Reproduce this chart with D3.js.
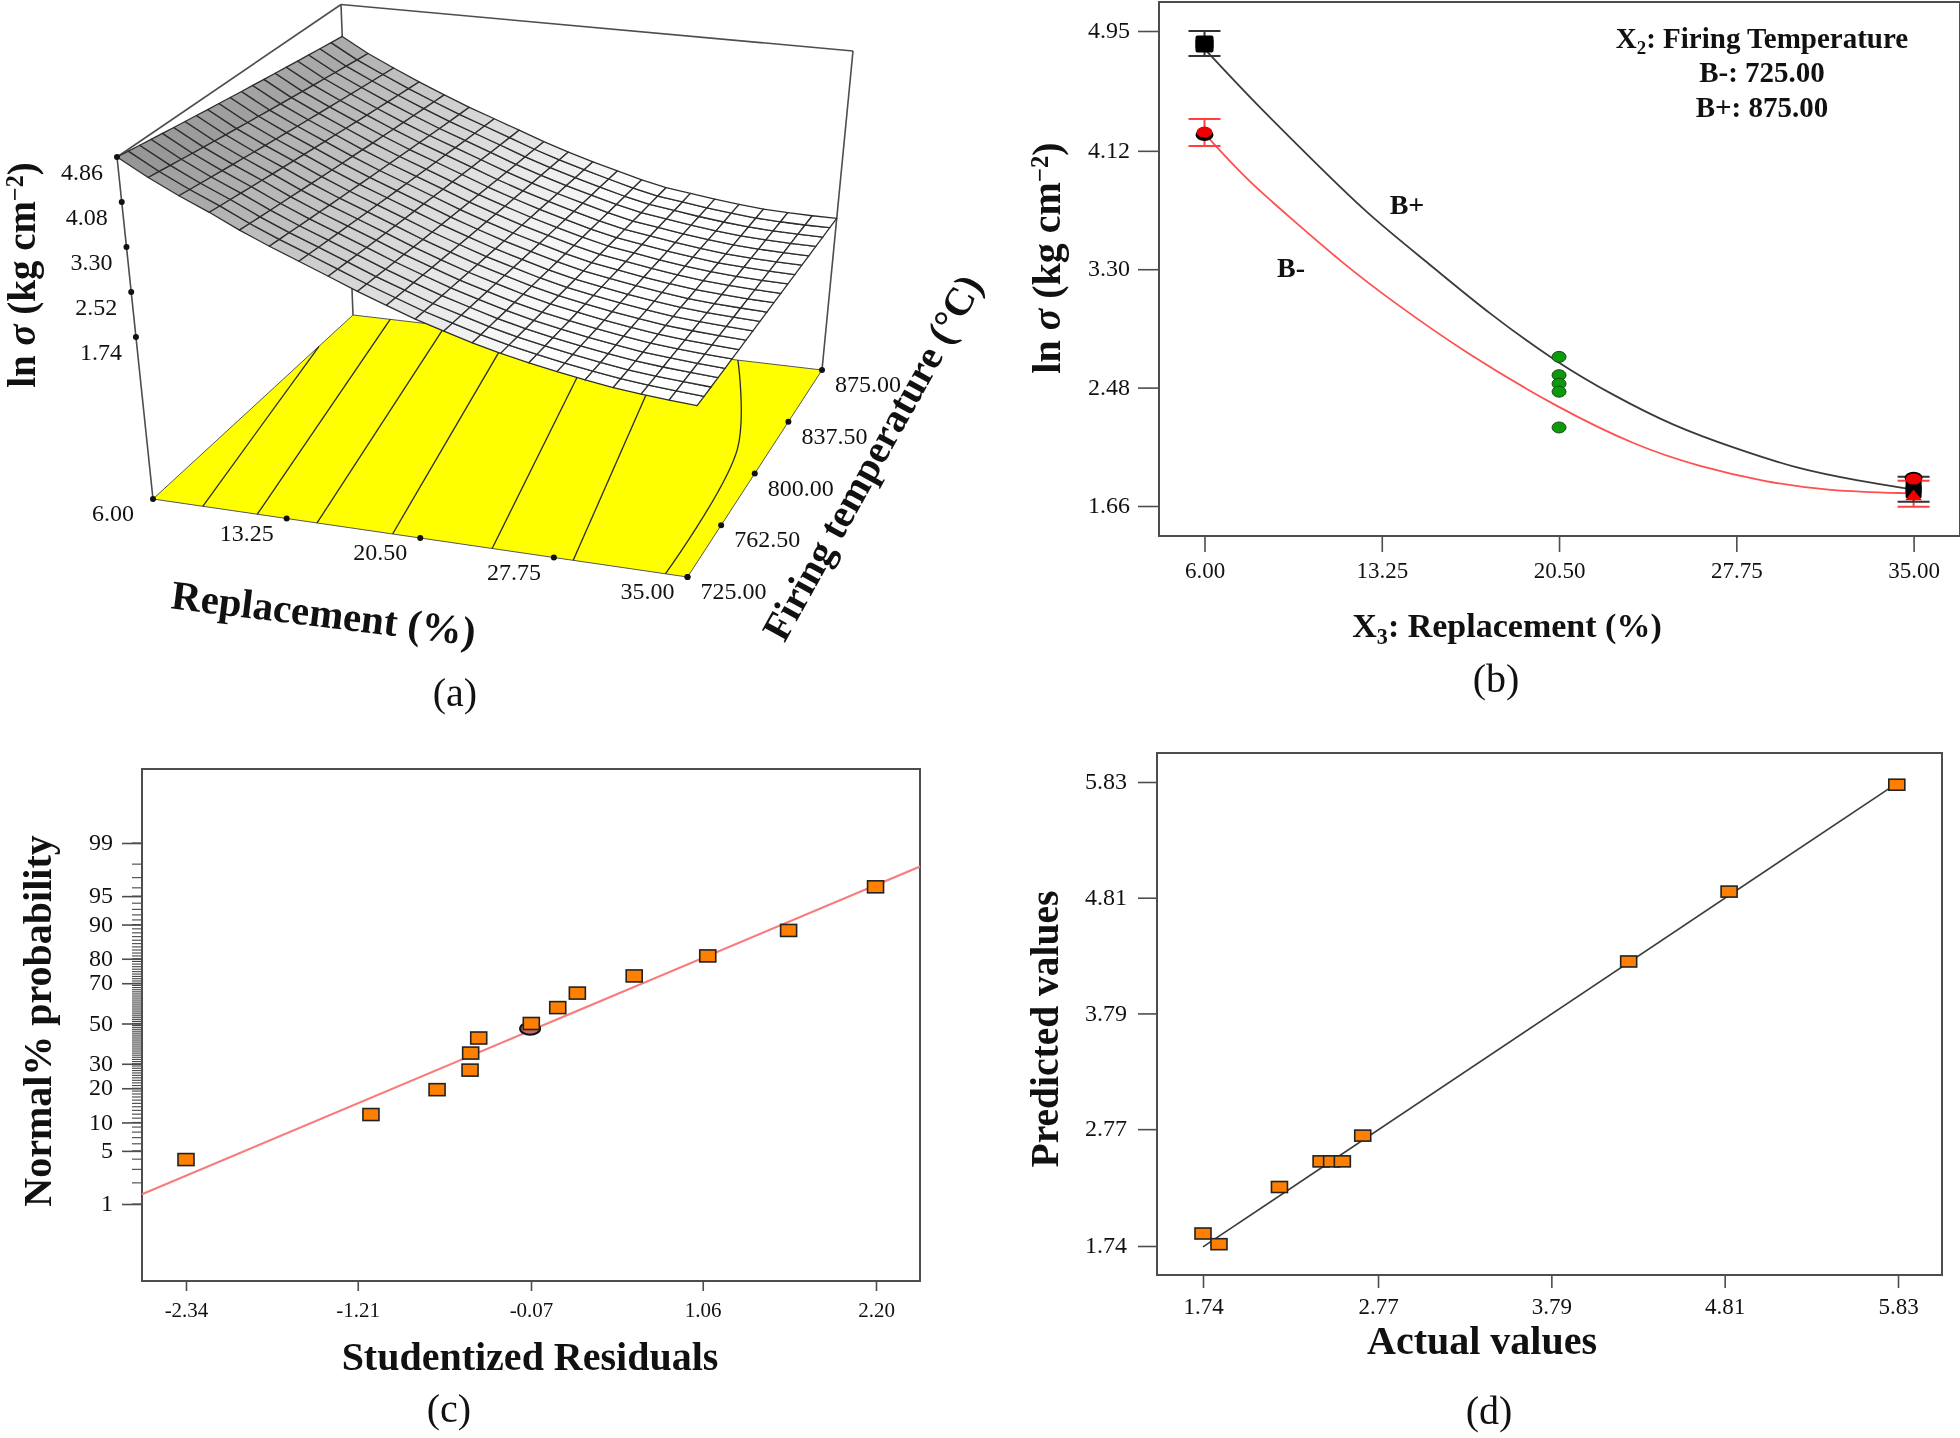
<!DOCTYPE html>
<html>
<head>
<meta charset="utf-8">
<script src="https://cdn.jsdelivr.net/npm/d3@7"></script>
<style>
    html, body { margin: 0; padding: 0; background: #fff; }
    svg { display: block; filter: blur(0.5px); }
    text { font-family: "Liberation Serif", serif; fill: #111; }
</style>
</head>
<body>
<div id="plotRegi"></div>
<script>
var surf_replacement = [6, 7.45, 8.9, 10.35, 11.8, 13.25, 14.7, 16.15, 17.6, 19.05, 20.5, 21.95, 23.4, 24.85, 26.3, 27.75, 29.2, 30.65, 32.1, 33.55, 35]
var surf_front = [4.86, 4.56, 4.30, 4.07, 3.82, 3.60, 3.40, 3.20, 3.00, 2.82, 2.645, 2.50, 2.36, 2.24, 2.14, 2.05, 1.97, 1.90, 1.85, 1.81, 1.775]
var surf_back = [4.25, 3.97, 3.74, 3.52, 3.32, 3.13, 2.96, 2.79, 2.62, 2.47, 2.335, 2.21, 2.09, 1.99, 1.93, 1.87, 1.82, 1.78, 1.76, 1.75, 1.75]
var temp_rows = [725, 732.5, 740, 747.5, 755, 762.5, 770, 777.5, 785, 792.5, 800, 807.5, 815, 822.5, 830, 837.5, 845, 852.5, 860, 867.5, 875]
var contour_lines = [
    [[8.7, 725], [6, 849.5]],
    [[11.66, 725], [8.3, 875]],
    [[14.9, 725], [11.7, 875]],
    [[19, 725], [15.7, 875]],
    [[24.4, 725], [20.9, 875]],
    [[28.8, 725], [25.3, 875]],
    [[33.8, 725], [33.2, 815], [29.8, 875]]
]
var a_x_ticks = [6, 13.25, 20.5, 27.75, 35]
var a_t_ticks = [725, 762.5, 800, 837.5, 875]
var a_z_ticks = [1.74, 2.52, 3.30, 4.08, 4.86]

// (b) interaction plot
var b_x_ticks = [6, 13.25, 20.5, 27.75, 35]
var b_y_ticks = [1.66, 2.48, 3.30, 4.12, 4.95]
var bplus_x = [6, 7.9, 10.16, 12.66, 15.17, 17.67, 20.48, 22.68, 25.18, 27.69, 30.19, 32.7, 35]
var bplus_y = [4.826, 4.48, 4.10, 3.68, 3.34, 2.987, 2.646, 2.43, 2.213, 2.06, 1.92, 1.836, 1.774]
var bminus_x = [6, 7.65, 9.65, 11.66, 13.66, 16.67, 20.48, 23.68, 26.19, 28.94, 31.44, 35]
var bminus_y = [4.24, 3.93, 3.636, 3.34, 3.08, 2.72, 2.337, 2.074, 1.935, 1.827, 1.765, 1.747]
var green_y = [2.693, 2.566, 2.507, 2.452, 2.204]
var bplus_err = [[6, 4.777, 4.95], [35, 1.69, 1.863]]
var bminus_err = [[6, 4.153, 4.34], [35, 1.655, 1.835]]
var black_points = [[6, 4.87], [6, 4.85], [35, 1.79], [35, 1.76]]
var black_under_red = [[6, 4.23], [35, 1.855]]
var red_circles = [[6, 4.25], [35, 1.847]]
var red_triangles = [[35, 1.725]]

// (c) normal probability plot
var c_x_ticks = [-2.34, -1.21, -0.07, 1.06, 2.20]
var c_y_ticks = [1, 5, 10, 20, 30, 50, 70, 80, 90, 95, 99]
var c_residuals = [-2.34, -1.123, -0.688, -0.471, -0.467, -0.414, -0.068, 0.106, 0.235, 0.609, 1.093, 1.625, 2.197]
var c_probability = [3.96, 11.9, 19.5, 27.2, 35, 42.5, 50, 58.2, 65.4, 73.2, 81, 88.6, 96.1]
var c_line_x = [-2.63, 2.49]
var c_line_p = [1.46, 97.83]
var c_circle = [-0.076, 47.3]

// (d) predicted vs actual
var d_ticks = [1.74, 2.77, 3.79, 4.81, 5.83]
var d_actual = [1.74, 1.834, 2.19, 2.435, 2.497, 2.56, 2.68, 4.245, 4.836, 5.823]
var d_predicted = [1.85, 1.756, 2.26, 2.486, 2.486, 2.486, 2.713, 4.248, 4.864, 5.806]
var d_line = [[1.74, 1.732], [5.823, 5.818]]

var svg = d3
    .select("#plotRegi")
    .append("svg")
    .attr("width", 1960)
    .attr("height", 1438)

var line_gray = "#4d4d4d"

function label(x, y, str, size, bold, rotate) {
    var t = svg
        .append("text")
        .attr("text-anchor", "middle")
        .attr("transform", "translate(" + x + "," + y + ")" + (rotate ? " rotate(" + rotate + ")" : ""))
        .style("font-size", size + "px")
        .style("font-weight", bold ? "bold" : "normal")
    if (str) t.text(str)
    return t
}

// y title used by (a) and (b)
function lnTitle(x, y, size) {
    var t = label(x, y, null, size, true, -90)
    t.append("tspan").text("ln ")
    t.append("tspan").style("font-style", "italic").text("σ")
    t.append("tspan").text(" (kg cm")
    t.append("tspan").attr("dy", -size * 0.3).style("font-size", size * 0.62 + "px").text("−2")
    t.append("tspan").attr("dy", size * 0.3).text(")")
}

function subTitle(x, y, size, before, sub, after) {
    var t = label(x, y, null, size, true)
    t.append("tspan").text(before)
    t.append("tspan").attr("dy", size * 0.22).style("font-size", size * 0.65 + "px").text(sub)
    t.append("tspan").attr("dy", -size * 0.22).text(after)
}

// Box with the ticks of a 2D panel
function panel(box, scale_x, scale_y, x_ticks, y_ticks, x_fmt, y_fmt, x_tick, x_pad, y_tick, y_pad, x_font) {
    svg
        .append("rect")
        .attr("x", box.left)
        .attr("y", box.top)
        .attr("width", box.right - box.left)
        .attr("height", box.bottom - box.top)
        .attr("fill", "none")
        .attr("stroke", line_gray)
        .attr("stroke-width", 2)

    var ax = svg
        .append("g")
        .attr("transform", "translate(0," + box.bottom + ")")
        .call(d3.axisBottom(scale_x).tickValues(x_ticks).tickFormat(x_fmt).tickSize(x_tick).tickPadding(x_pad))
    var ay = svg
        .append("g")
        .attr("transform", "translate(" + box.left + ",0)")
        .call(d3.axisLeft(scale_y).tickValues(y_ticks).tickFormat(y_fmt).tickSize(y_tick).tickPadding(y_pad))

    ;[ax, ay].forEach(function (g) {
        g.select(".domain").remove()
        g.selectAll("line").attr("stroke", line_gray).attr("stroke-width", 1.6)
        g.selectAll("text").style("font-size", "24px").attr("font-family", null)
    })
    ax.selectAll("text").style("font-size", x_font + "px")
    ay.selectAll("text").attr("dy", "0.28em")
}

function squares(pts, w, h) {
    svg
        .append("g")
        .selectAll("rect")
        .data(pts)
        .enter()
        .append("rect")
        .attr("x", d => d.x - w / 2)
        .attr("y", d => d.y - h / 2)
        .attr("width", w)
        .attr("height", h)
        .attr("fill", "#ff8000")
        .attr("stroke", "#222")
        .attr("stroke-width", 1.6)
}

/* ---------- (a) ---------- */
var u_scale = d3.scaleLinear().domain([6, 35]).range([0, 1])
var v_scale = d3.scaleLinear().domain([725, 875]).range([0, 1])
var w_scale = d3.scaleLinear().domain([-1.07, 4.86]).range([0, 1])

// Perspective of the plot cube: corner pixels, [floor, top] for each vertical edge
var cube = {
    left_front: [[153, 499], [117, 157]],
    right_front: [[687.5, 577], [707.5, 220]],
    right_back: [[822, 370], [853, 51]],
    left_back: [[353, 315], [341, 4.5]]
}

function project(rep, temp, z) {
    var u = u_scale(rep), v = v_scale(temp), w = w_scale(z)
    function edge(c) {
        return [c[0][0] + (c[1][0] - c[0][0]) * w, c[0][1] + (c[1][1] - c[0][1]) * w]
    }
    var lf = edge(cube.left_front), rf = edge(cube.right_front), rb = edge(cube.right_back), lb = edge(cube.left_back)
    var fx = lf[0] + (rf[0] - lf[0]) * u, fy = lf[1] + (rf[1] - lf[1]) * u
    var bx = lb[0] + (rb[0] - lb[0]) * u, by = lb[1] + (rb[1] - lb[1]) * u
    return [fx + (bx - fx) * v, fy + (by - fy) * v]
}

var z_floor = -1.07, z_top = 4.86
var line3d = d3.line()

var a_group = svg.append("g")

// Back of the cube
var cube_edges = [
    [[6, 725, z_floor], [6, 725, z_top]],
    [[6, 725, z_top], [6, 875, z_top]],
    [[6, 875, z_top], [35, 875, z_top]],
    [[6, 875, z_floor], [6, 875, z_top]],
    [[35, 875, z_floor], [35, 875, z_top]]
]
a_group
    .selectAll("path.edge")
    .data(cube_edges)
    .enter()
    .append("path")
    .attr("class", "edge")
    .attr("d", d => line3d(d.map(p => project(p[0], p[1], p[2]))))
    .attr("stroke", line_gray)
    .attr("stroke-width", 1.6)
    .attr("fill", "none")

// Yellow floor with the contours
a_group
    .append("path")
    .attr("d", line3d([[6, 725], [35, 725], [35, 875], [6, 875]].map(p => project(p[0], p[1], z_floor))) + "Z")
    .attr("fill", "#ffff00")
    .attr("stroke", "#555")
    .attr("stroke-width", 1)

a_group
    .selectAll("path.contour")
    .data(contour_lines)
    .enter()
    .append("path")
    .attr("class", "contour")
    .attr("d", d => d3.line().curve(d3.curveCatmullRom)(d.map(p => project(p[0], p[1], z_floor))))
    .attr("stroke", "#2a2a2a")
    .attr("stroke-width", 1.3)
    .attr("fill", "none")

// Surface mesh
var shade = d3.scaleLinear().domain([4.86, 2.05]).range(["#8f8f8f", "#ffffff"]).clamp(true)

function surfaceZ(i, j) {
    var t = v_scale(temp_rows[j])
    return surf_front[i] + (surf_back[i] - surf_front[i]) * t
}

var cells = []
temp_rows.slice(0, -1).forEach(function (temp, j) {
    surf_replacement.slice(0, -1).forEach(function (rep, i) {
        cells.push({ i: i, j: j })
    })
})

a_group
    .selectAll("path.cell")
    .data(cells)
    .enter()
    .append("path")
    .attr("class", "cell")
    .attr("d", function (d) {
        var i = d.i, j = d.j
        return line3d([
            project(surf_replacement[i], temp_rows[j], surfaceZ(i, j)),
            project(surf_replacement[i + 1], temp_rows[j], surfaceZ(i + 1, j)),
            project(surf_replacement[i + 1], temp_rows[j + 1], surfaceZ(i + 1, j + 1)),
            project(surf_replacement[i], temp_rows[j + 1], surfaceZ(i, j + 1))
        ]) + "Z"
    })
    .attr("fill", d => shade((surfaceZ(d.i, d.j) + surfaceZ(d.i + 1, d.j + 1)) / 2))
    .attr("stroke", "#2e2e2e")
    .attr("stroke-width", 1.3)
    .attr("stroke-linejoin", "round")

// Tick dots and labels
var a_ticks = []
a_x_ticks.forEach(d => a_ticks.push({ p: project(d, 725, z_floor), text: d.toFixed(2), dx: -40, dy: 22 }))
a_t_ticks.forEach(d => a_ticks.push({ p: project(35, d, z_floor), text: d.toFixed(2), dx: 46, dy: 22 }))
a_z_ticks.forEach(d => a_ticks.push({ p: project(6, 725, d), text: d.toFixed(2), dx: -35, dy: 23 }))

a_group
    .selectAll("circle.tick")
    .data(a_ticks)
    .enter()
    .append("circle")
    .attr("class", "tick")
    .attr("cx", d => d.p[0])
    .attr("cy", d => d.p[1])
    .attr("r", 3)
    .attr("fill", "#111")

a_group
    .selectAll("text.tick")
    .data(a_ticks)
    .enter()
    .append("text")
    .attr("class", "tick")
    .attr("x", d => d.p[0] + d.dx)
    .attr("y", d => d.p[1] + d.dy)
    .attr("text-anchor", "middle")
    .style("font-size", "24px")
    .text(d => d.text)

lnTitle(35, 275, 39)
label(322, 627, "Replacement (%)", 41, true, 7)
label(884, 464, "Firing temperature (°C)", 40, true, -61)
label(455, 706, "(a)", 40)

/* ---------- (b) ---------- */
var b_box = { left: 1159, right: 1960, top: 2, bottom: 536 }
var b_x = d3.scaleLinear().domain([6, 35]).range([1204.5, 1913.6])
var b_y = d3.scaleLinear().domain([1.66, 4.95]).range([506, 31])
panel(b_box, b_x, b_y, b_x_ticks, b_y_ticks, d => d.toFixed(2), d => d.toFixed(2), 16, 10, 21, 8, 23)

var curve = d3.line().x(d => b_x(d[0])).y(d => b_y(d[1])).curve(d3.curveBasis)

svg.append("path").attr("d", curve(d3.zip(bminus_x, bminus_y))).attr("fill", "none").attr("stroke", "#ff5050").attr("stroke-width", 1.8)
svg.append("path").attr("d", curve(d3.zip(bplus_x, bplus_y))).attr("fill", "none").attr("stroke", "#3a3a3a").attr("stroke-width", 1.8)

function errorBars(rows, color) {
    var g = svg.append("g").attr("stroke", color).attr("stroke-width", 2)
    rows.forEach(function (r) {
        g.append("line").attr("x1", b_x(r[0])).attr("x2", b_x(r[0])).attr("y1", b_y(r[1])).attr("y2", b_y(r[2]))
        r.slice(1).forEach(function (v) {
            g.append("line").attr("x1", b_x(r[0]) - 16).attr("x2", b_x(r[0]) + 16).attr("y1", b_y(v)).attr("y2", b_y(v))
        })
    })
}
errorBars(bminus_err, "#ff4040")
errorBars(bplus_err, "#333333")

svg
    .append("g")
    .selectAll("rect")
    .data(black_points)
    .enter()
    .append("rect")
    .attr("x", d => b_x(d[0]) - (d[0] == 6 ? 9 : 8))
    .attr("y", d => b_y(d[1]) - 7)
    .attr("width", d => d[0] == 6 ? 18 : 16)
    .attr("height", 14)
    .attr("rx", 2)
    .attr("fill", "#000")

svg
    .append("g")
    .selectAll("ellipse")
    .data(black_under_red)
    .enter()
    .append("ellipse")
    .attr("cx", d => b_x(d[0]))
    .attr("cy", d => b_y(d[1]))
    .attr("rx", 9)
    .attr("ry", 6)
    .attr("fill", "#000")

svg
    .append("g")
    .selectAll("ellipse")
    .data(red_circles)
    .enter()
    .append("ellipse")
    .attr("cx", d => b_x(d[0]))
    .attr("cy", d => b_y(d[1]))
    .attr("rx", 8)
    .attr("ry", 5.5)
    .attr("fill", "#f00000")

svg
    .append("g")
    .selectAll("path")
    .data(red_triangles)
    .enter()
    .append("path")
    .attr("transform", d => "translate(" + b_x(d[0]) + "," + b_y(d[1]) + ") scale(1.1,0.8)")
    .attr("d", d3.symbol(d3.symbolTriangle, 100))
    .attr("fill", "#f00000")

svg
    .append("g")
    .selectAll("ellipse")
    .data(green_y)
    .enter()
    .append("ellipse")
    .attr("cx", b_x(20.5))
    .attr("cy", d => b_y(d))
    .attr("rx", 7)
    .attr("ry", 5.5)
    .attr("fill", "#0a9a0a")
    .attr("stroke", "#1a4a1a")
    .attr("stroke-width", 1)

subTitle(1762, 48, 29, "X", "2", ": Firing Temperature")
label(1762, 82, "B-: 725.00", 29, true)
label(1762, 117, "B+: 875.00", 29, true)
label(1407, 214, "B+", 28, true)
label(1291, 277, "B-", 28, true)
lnTitle(1060, 258, 40)
subTitle(1507, 637, 34, "X", "3", ": Replacement (%)")
label(1496, 692, "(b)", 40)

/* ---------- (c) ---------- */
// Probit approximation for the normal probability axis
function probit(p) {
    var q = p / 100
    return (Math.pow(q, 0.135) - Math.pow(1 - q, 0.135)) / 0.1975
}

var c_box = { left: 142, right: 920, top: 769, bottom: 1281 }
var c_x = d3.scaleLinear().domain([-2.34, 2.20]).range([186, 876])
var c_z = d3.scaleLinear().domain([probit(1), probit(99)]).range([1204, 843])
var c_minor = d3.range(1, 100)
var c_y = d3.scaleLinear().domain(c_minor).range(c_minor.map(p => c_z(probit(p))))

// Small ticks for every percent
svg
    .append("g")
    .selectAll("line")
    .data(c_minor)
    .enter()
    .append("line")
    .attr("x1", c_box.left - 10)
    .attr("x2", c_box.left)
    .attr("y1", d => c_y(d))
    .attr("y2", d => c_y(d))
    .attr("stroke", "#444")
    .attr("stroke-width", 1.1)

panel(c_box, c_x, c_y, c_x_ticks, c_y_ticks, d => d.toFixed(2), d => d, 10, 11, 20, 9, 21)

svg
    .append("path")
    .attr("d", d3.line()(d3.zip(c_line_x, c_line_p).map(d => [c_x(d[0]), c_y(d[1])])))
    .attr("stroke", "#f87c7c")
    .attr("stroke-width", 2.2)
    .attr("fill", "none")

svg
    .append("ellipse")
    .attr("cx", c_x(c_circle[0]))
    .attr("cy", c_y(c_circle[1]))
    .attr("rx", 10)
    .attr("ry", 6)
    .attr("fill", "#c46a6a")
    .attr("stroke", "#111")
    .attr("stroke-width", 2)

squares(d3.zip(c_residuals, c_probability).map(d => ({ x: c_x(d[0]), y: c_y(d[1]) })), 16, 12)

label(51, 1021, "Normal% probability", 40, true, -90)
label(530, 1370, "Studentized Residuals", 40, true)
label(449, 1422, "(c)", 40)

/* ---------- (d) ---------- */
var d_box = { left: 1157, right: 1942, top: 753, bottom: 1275 }
var d_x = d3.scaleLinear().domain([1.74, 5.83]).range([1203, 1898])
var d_y = d3.scaleLinear().domain([1.74, 5.83]).range([1246, 782])
panel(d_box, d_x, d_y, d_ticks, d_ticks, d => d.toFixed(2), d => d.toFixed(2), 13, 10, 19, 11, 23)

svg
    .append("path")
    .attr("d", d3.line()(d_line.map(d => [d_x(d[0]), d_y(d[1])])))
    .attr("stroke", "#3a3a3a")
    .attr("stroke-width", 1.6)
    .attr("fill", "none")

squares(d3.zip(d_actual, d_predicted).map(d => ({ x: d_x(d[0]), y: d_y(d[1]) })), 16, 11)

label(1058, 1029, "Predicted values", 39.5, true, -90)
label(1482, 1354, "Actual values", 40, true)
label(1489, 1424, "(d)", 40)
</script>
</body>
</html>
